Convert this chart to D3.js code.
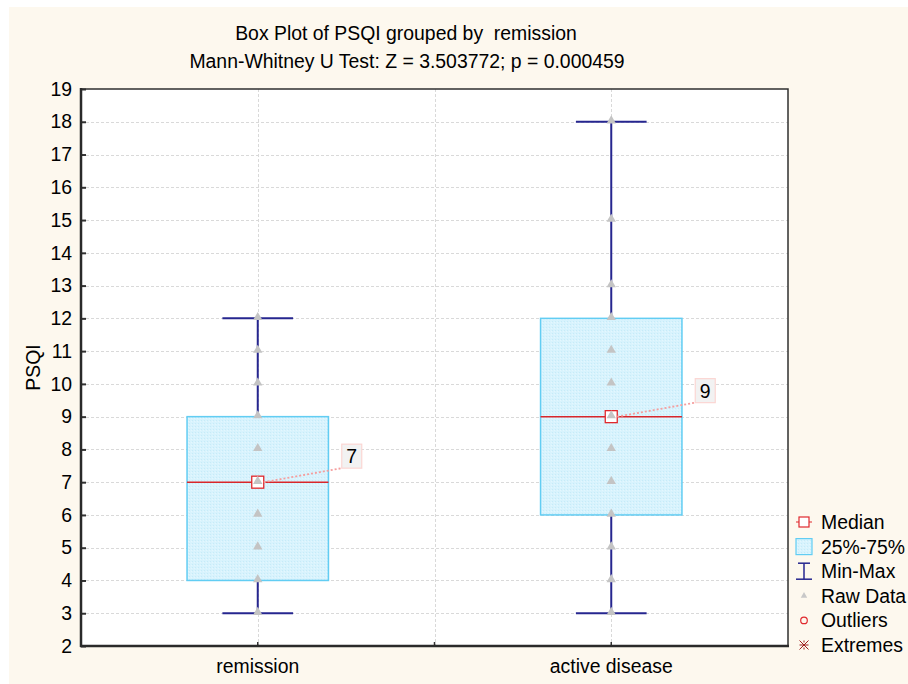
<!DOCTYPE html>
<html>
<head>
<meta charset="utf-8">
<script src="https://cdn.jsdelivr.net/npm/d3@7"></script>
<style>
  html, body { margin: 0; padding: 0; background: #ffffff; }
  svg { display: block; font-family: Arial, "Liberation Sans", sans-serif; }
</style>
</head>
<body>
<svg id="chart" width="908" height="684"></svg>
<script>
// Groups and their summary statistics
const groups = ["remission", "active disease"];
const medians = [7, 9];
const q1 = [4, 6];
const q3 = [9, 12];
const mins = [3, 3];
const maxs = [12, 18];
// Raw observations (distinct values) shown along each group's centre line
const rawRemission = [3, 4, 5, 6, 7, 8, 9, 10, 11, 12];
const rawActive = [3, 4, 5, 6, 7, 8, 9, 10, 11, 12, 13, 15, 18];
const yTicks = [2, 3, 4, 5, 6, 7, 8, 9, 10, 11, 12, 13, 14, 15, 16, 17, 18, 19];
const legendItems = ["Median", "25%-75%", "Min-Max", "Raw Data", "Outliers", "Extremes"];

const FS = 19.4;
const svg = d3.select("#chart");
const W = 908, H = 684;
const plot = { left: 81, top: 89, right: 788, bottom: 646 };

// Background panel
svg.append("rect").attr("x", 9).attr("y", 7).attr("width", W - 9).attr("height", H - 7)
  .attr("fill", "#fdf8ee");

const defs = svg.append("defs");
const pat = defs.append("pattern").attr("id", "hatch").attr("width", 3).attr("height", 3)
  .attr("patternUnits", "userSpaceOnUse");
pat.append("rect").attr("width", 3).attr("height", 3).attr("fill", "#d8f3fd");
pat.append("rect").attr("x", 0).attr("y", 0).attr("width", 1).attr("height", 1).attr("fill", "#c6ebf8");
pat.append("rect").attr("x", 2).attr("y", 1).attr("width", 1).attr("height", 1).attr("fill", "#e4f7fe");

const x = d3.scaleBand().domain(groups).range([plot.left, plot.right]).padding(0);
const y = d3.scaleLinear().domain([2, 19]).range([plot.bottom, plot.top]);
const cx = g => x(g) + x.bandwidth() / 2;

// Plot area
svg.append("rect").attr("x", plot.left).attr("y", plot.top)
  .attr("width", plot.right - plot.left).attr("height", plot.bottom - plot.top)
  .attr("fill", "#ffffff");

// Grid
const grid = svg.append("g").attr("stroke", "#d9d9d9").attr("stroke-width", 1)
  .attr("stroke-dasharray", "3,2");
grid.selectAll("line.h").data(yTicks.slice(1, -1)).join("line")
  .attr("x1", plot.left).attr("x2", plot.right)
  .attr("y1", d => Math.round(y(d)) + 0.5).attr("y2", d => Math.round(y(d)) + 0.5);
const vLines = groups.map(cx).concat([x(groups[1])]);
grid.selectAll("line.v").data(vLines).join("line")
  .attr("y1", plot.top).attr("y2", plot.bottom)
  .attr("x1", d => Math.round(d) + 0.5).attr("x2", d => Math.round(d) + 0.5);

// Boxes, whiskers, raw data
const boxW = x.bandwidth() * 0.4;
const capW = x.bandwidth() * 0.2;
const rawData = [rawRemission, rawActive];
const whiskerColor = "#26268f";

groups.forEach((g, i) => {
  const c = cx(g);
  const gg = svg.append("g");
  // whisker stems
  gg.append("line").attr("x1", c).attr("x2", c).attr("y1", y(maxs[i])).attr("y2", y(q3[i]))
    .attr("stroke", whiskerColor).attr("stroke-width", 2);
  gg.append("line").attr("x1", c).attr("x2", c).attr("y1", y(q1[i])).attr("y2", y(mins[i]))
    .attr("stroke", whiskerColor).attr("stroke-width", 2);
  // caps
  [mins[i], maxs[i]].forEach(v => {
    gg.append("line").attr("x1", c - capW / 2).attr("x2", c + capW / 2)
      .attr("y1", y(v)).attr("y2", y(v))
      .attr("stroke", whiskerColor).attr("stroke-width", 2);
  });
  // box
  gg.append("rect").attr("x", c - boxW / 2).attr("y", y(q3[i]))
    .attr("width", boxW).attr("height", y(q1[i]) - y(q3[i]))
    .attr("fill", "url(#hatch)").attr("stroke", "#62cdf3").attr("stroke-width", 1.5);
  // median line
  gg.append("line").attr("x1", c - boxW / 2).attr("x2", c + boxW / 2)
    .attr("y1", y(medians[i])).attr("y2", y(medians[i]))
    .attr("stroke", "#d8262b").attr("stroke-width", 1.5);
  // median marker
  gg.append("rect").attr("x", c - 6).attr("y", y(medians[i]) - 6)
    .attr("width", 12).attr("height", 12)
    .attr("fill", "#ffffff").attr("stroke", "#e0282d").attr("stroke-width", 1.3);
  // raw data triangles
  gg.selectAll("path.raw").data(rawData[i]).join("path")
    .attr("d", d3.symbol(d3.symbolTriangle, 38))
    .attr("transform", d => `translate(${c},${y(d) - 1})`)
    .attr("fill", "#c4c4c4");
  // median label with leader
  const lx = c + 94, ly = y(medians[i]) - 26;
  gg.append("line").attr("x1", c + 6).attr("y1", y(medians[i]))
    .attr("x2", lx - 10).attr("y2", ly + 12)
    .attr("stroke", "#f59e9e").attr("stroke-width", 1.8).attr("stroke-dasharray", "2,2");
  gg.append("rect").attr("x", lx - 10).attr("y", ly - 12).attr("width", 20).attr("height", 24)
    .attr("fill", "#f2f2f2").attr("stroke", "#fbd6d3").attr("stroke-width", 1.2);
  gg.append("text").attr("x", lx).attr("y", ly + 7).attr("text-anchor", "middle")
    .attr("font-size", FS).attr("fill", "#000").text(medians[i]);
});

// Axes
const yAxis = d3.axisLeft(y).tickValues(yTicks).tickSize(-5).tickPadding(9).tickFormat(d3.format("d"));
const ya = svg.append("g").attr("transform", `translate(${plot.left},0)`).call(yAxis);
ya.select(".domain").remove();
ya.selectAll(".tick line").attr("stroke", "#333").attr("stroke-width", 2);
ya.selectAll("text").attr("font-size", FS).attr("fill", "#000").attr("font-family", "Arial, 'Liberation Sans', sans-serif");

const xTickVals = groups.map(cx).concat([x(groups[1])]);
svg.append("g").selectAll("line").data(xTickVals).join("line")
  .attr("x1", d => d).attr("x2", d => d).attr("y1", plot.bottom).attr("y2", plot.bottom - 4)
  .attr("stroke", "#333").attr("stroke-width", 1.5);
svg.append("g").selectAll("text").data(groups).join("text")
  .attr("x", d => cx(d)).attr("y", 673).attr("text-anchor", "middle")
  .attr("font-size", FS).attr("fill", "#000").text(d => d);

// Frame
svg.append("rect").attr("x", plot.left).attr("y", plot.top)
  .attr("width", plot.right - plot.left).attr("height", plot.bottom - plot.top)
  .attr("fill", "none").attr("stroke", "#2f2f2f").attr("stroke-width", 1.5);
svg.append("line").attr("x1", plot.left).attr("x2", plot.left).attr("y1", plot.top - 1).attr("y2", plot.bottom + 1)
  .attr("stroke", "#2a2a2a").attr("stroke-width", 2.5);
svg.append("line").attr("x1", plot.left - 1).attr("x2", plot.right + 1).attr("y1", plot.bottom).attr("y2", plot.bottom)
  .attr("stroke", "#2a2a2a").attr("stroke-width", 2.5);

// Titles
svg.append("text").attr("x", 406).attr("y", 40).attr("text-anchor", "middle")
  .attr("font-size", FS).attr("fill", "#000").attr("xml:space", "preserve")
  .text("Box Plot of PSQI grouped by  remission");
svg.append("text").attr("x", 407).attr("y", 68).attr("text-anchor", "middle")
  .attr("font-size", FS).attr("fill", "#000")
  .text("Mann-Whitney U Test: Z = 3.503772; p = 0.000459");
svg.append("text").attr("transform", `translate(40,${(plot.top + plot.bottom) / 2}) rotate(-90)`)
  .attr("text-anchor", "middle").attr("font-size", FS).attr("fill", "#000").text("PSQI");

// Legend
const lg = svg.append("g");
const lx0 = 804, ly0 = 522, step = 24.6;
legendItems.forEach((t, i) => {
  lg.append("text").attr("x", 821).attr("y", ly0 + i * step + 7).attr("font-size", FS)
    .attr("fill", "#000").text(t);
});
// Median icon
lg.append("rect").attr("x", lx0 - 5).attr("y", ly0 - 5).attr("width", 10).attr("height", 10)
  .attr("fill", "#fff").attr("stroke", "#e0282d").attr("stroke-width", 1.2);
lg.append("line").attr("x1", lx0 - 8).attr("x2", lx0 - 5).attr("y1", ly0).attr("y2", ly0).attr("stroke", "#e0282d");
lg.append("line").attr("x1", lx0 + 5).attr("x2", lx0 + 8).attr("y1", ly0).attr("y2", ly0).attr("stroke", "#e0282d");
// Box icon
lg.append("rect").attr("x", lx0 - 8).attr("y", ly0 + step - 8).attr("width", 16).attr("height", 16)
  .attr("fill", "url(#hatch)").attr("stroke", "#62cdf3").attr("stroke-width", 1.2);
// Min-Max icon
const my = ly0 + 2 * step;
lg.append("line").attr("x1", lx0).attr("x2", lx0).attr("y1", my - 8).attr("y2", my + 8).attr("stroke", whiskerColor).attr("stroke-width", 1.5);
lg.append("line").attr("x1", lx0 - 6).attr("x2", lx0 + 6).attr("y1", my - 8).attr("y2", my - 8).attr("stroke", whiskerColor).attr("stroke-width", 1.5);
lg.append("line").attr("x1", lx0 - 8).attr("x2", lx0 + 8).attr("y1", my + 8).attr("y2", my + 8).attr("stroke", whiskerColor).attr("stroke-width", 1.5);
// Raw data icon
lg.append("path").attr("d", d3.symbol(d3.symbolTriangle, 18))
  .attr("transform", `translate(${lx0},${ly0 + 3 * step})`).attr("fill", "#c8c8c8");
// Outlier icon
lg.append("circle").attr("cx", lx0).attr("cy", ly0 + 4 * step).attr("r", 3.3)
  .attr("fill", "none").attr("stroke", "#e0282d").attr("stroke-width", 1.2);
// Extreme icon: eight-spoke star
const ey = ly0 + 5 * step, er = 4.5;
const spokes = [[-er, 0, er, 0], [-er, -er, er, er], [-er, er, er, -er], [0, -er, 0, -er + 2], [0, er - 2, 0, er]];
lg.append("g").selectAll("line").data(spokes).join("line")
  .attr("x1", d => lx0 + d[0]).attr("y1", d => ey + d[1])
  .attr("x2", d => lx0 + d[2]).attr("y2", d => ey + d[3])
  .attr("stroke", "#9b1b1b").attr("stroke-width", 1);
</script>
</body>
</html>
